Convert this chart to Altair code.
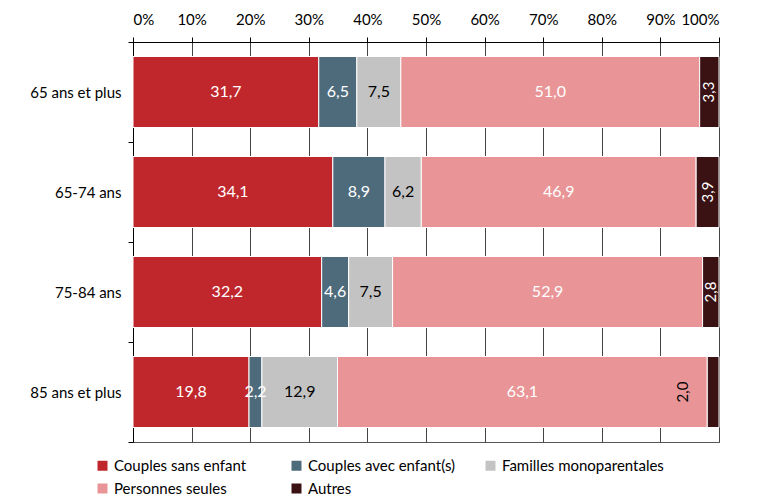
import altair as alt
import pandas as pd

categories = ["65 ans et plus", "65-74 ans", "75-84 ans", "85 ans et plus"]
series = ["Couples sans enfant", "Couples avec enfant(s)", "Familles monoparentales",
          "Personnes seules", "Autres"]
colors = ["#C0272D", "#4E6B7C", "#C3C3C3", "#E99597", "#3B1214"]

couples_sans_enfant = [31.7, 34.1, 32.2, 19.8]
couples_avec_enfants = [6.5, 8.9, 4.6, 2.2]
familles_monoparentales = [7.5, 6.2, 7.5, 12.9]
personnes_seules = [51.0, 46.9, 52.9, 63.1]
autres = [3.3, 3.9, 2.8, 2.0]

tick_values = [0, 10, 20, 30, 40, 50, 60, 70, 80, 90, 100]

series_values = [couples_sans_enfant, couples_avec_enfants, familles_monoparentales,
                 personnes_seules, autres]

rows = []
for i, cat in enumerate(categories):
    for j, s in enumerate(series):
        v = series_values[j][i]
        rows.append({
            "cat": cat,
            "serie": s,
            "order": j,
            "value": v,
            "label": f"{v:.1f}".replace(".", ","),
            "lc": "black" if s == "Familles monoparentales" else "white",
            "rot": 1 if s == "Autres" else 0,
            "shift": 1 if (s == "Autres" and cat == "85 ans et plus") else 0,
        })
df = pd.DataFrame(rows)

FONT = "Lato"

base = alt.Chart(df).transform_stack(
    stack="value", groupby=["cat"], as_=["x0", "x1"], sort=[alt.SortField("order")]
).transform_calculate(mid="(datum.x0 + datum.x1) / 2")

y_enc = alt.Y(
    "cat:N", sort=categories,
    scale=alt.Scale(paddingInner=0, paddingOuter=0),
    axis=alt.Axis(title=None, orient="left", domainColor="black", tickColor="black",
                  tickSize=5, tickBand="extent", labelFont=FONT, labelFontSize=15,
                  labelColor="black", labelPadding=7, grid=False),
)

bars = base.mark_bar(size=71, stroke="white", strokeWidth=1).encode(
    y=y_enc,
    x=alt.X("x0:Q", scale=alt.Scale(domain=[0, 100], nice=False),
            axis=alt.Axis(title=None, orient="top", values=tick_values,
                          labelExpr="datum.value + '%'", domainColor="black",
                          tickColor="black", tickSize=5, grid=True, gridColor="#444",
                          gridOpacity=1, labelFont=FONT, labelFontSize=15,
                          labelColor="black", labelPadding=10)),
    x2="x1:Q",
    color=alt.Color("serie:N", scale=alt.Scale(domain=series, range=colors),
                    legend=alt.Legend(title=None, orient="none", legendX=-38, legendY=416,
                                      direction="horizontal",
                                      columns=3, gridAlign="all", columnPadding=13,
                                      rowPadding=7, symbolType="square", symbolSize=100,
                                      symbolStrokeWidth=0, labelFont=FONT,
                                      labelFontSize=15, labelColor="black",
                                      labelOffset=4, padding=0, labelLimit=300)),
    order=alt.Order("order:Q"),
)

labels = base.transform_filter("datum.rot == 0").mark_text(
    font=FONT, fontSize=16, align="center", baseline="middle"
).encode(
    x=alt.X("mid:Q"), y=alt.Y("cat:N", sort=categories),
    text="label:N", color=alt.Color("lc:N", scale=None),
)

rot_labels = base.transform_filter("datum.rot == 1 && datum.shift == 0").mark_text(
    font=FONT, fontSize=15, align="center", baseline="middle", angle=270, color="white"
).encode(
    x=alt.X("mid:Q"), y=alt.Y("cat:N", sort=categories), text="label:N",
)

shift_labels = base.transform_filter("datum.shift == 1").mark_text(
    font=FONT, fontSize=15, align="center", baseline="middle", angle=270, color="black",
    dy=-30,
).encode(
    x=alt.X("mid:Q"), y=alt.Y("cat:N", sort=categories), text="label:N",
)

chart = alt.layer(bars, labels, rot_labels, shift_labels).properties(
    width=586, height=400,
    autosize=alt.AutoSizeParams(type="none"),
    padding={"left": 125, "top": 34, "right": 24, "bottom": 57},
).configure_view(stroke="#555", strokeWidth=1)

chart.save("out.html", embed_options={"renderer": "svg", "actions": False})
